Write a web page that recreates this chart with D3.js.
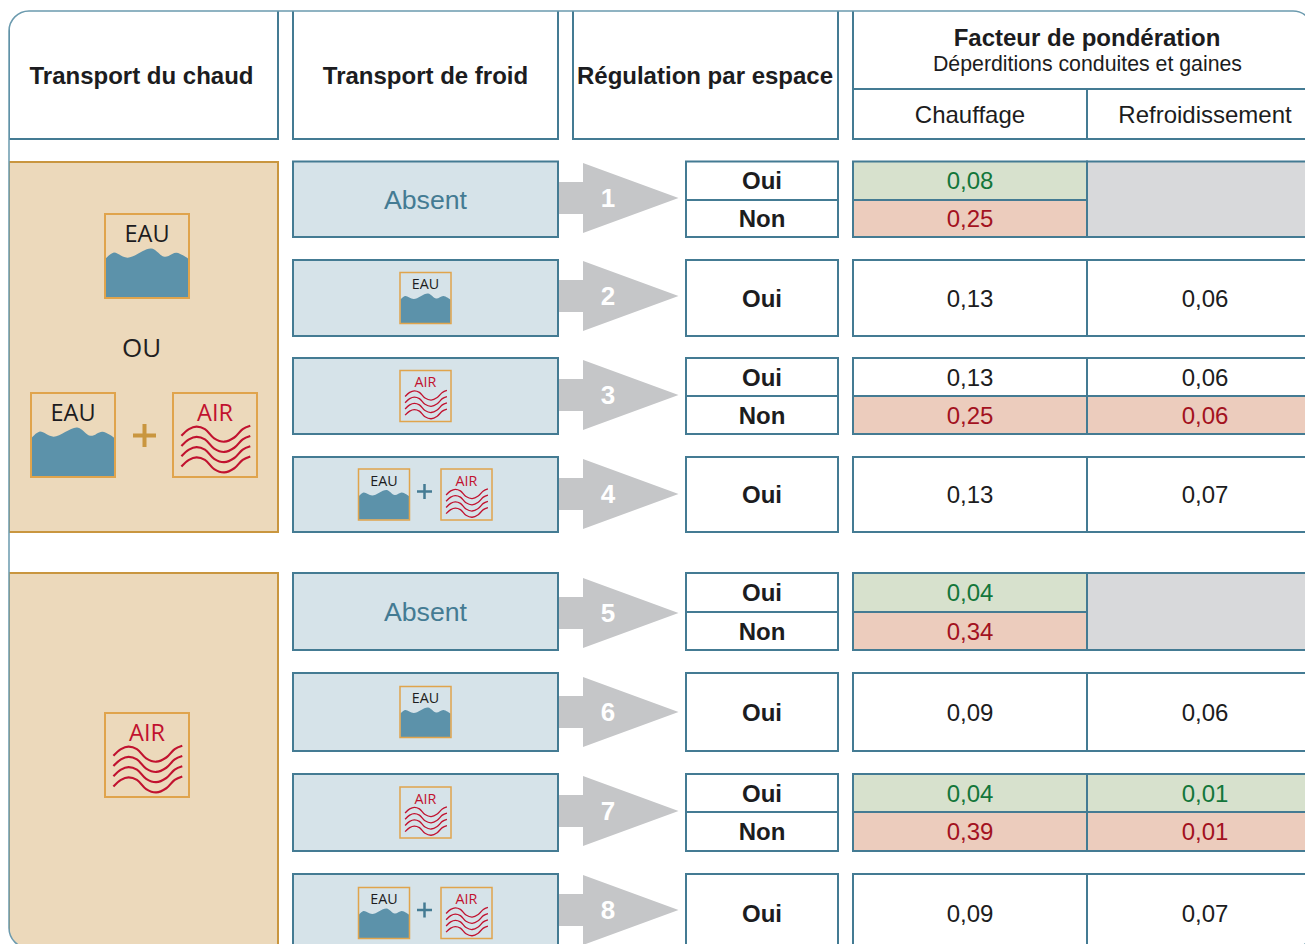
<!DOCTYPE html>
<html lang="fr">
<head>
<meta charset="utf-8">
<title>Facteur de pondération</title>
<script src="https://cdn.jsdelivr.net/npm/d3@7"></script>
<style>
  html, body { margin: 0; padding: 0; background: #fff; overflow: hidden; }
  svg { display: block; }
  text { font-family: "Liberation Sans", Arial, sans-serif; fill: #1f1f22; }
  .icon-text { font-family: "Open Sans", sans-serif; }
</style>
</head>
<body>
<svg id="chart" width="1305" height="944"></svg>
<script>
const rowNumbers = [1, 2, 3, 4, 5, 6, 7, 8];
const coolingTypes = ['Absent', 'EAU', 'AIR', 'EAU+AIR', 'Absent', 'EAU', 'AIR', 'EAU+AIR'];
const regulation = [['Oui', 'Non'], ['Oui'], ['Oui', 'Non'], ['Oui'], ['Oui', 'Non'], ['Oui'], ['Oui', 'Non'], ['Oui']];
const chauffage = [['0,08', '0,25'], ['0,13'], ['0,13', '0,25'], ['0,13'], ['0,04', '0,34'], ['0,09'], ['0,04', '0,39'], ['0,09']];
const refroidissement = [null, ['0,06'], ['0,06', '0,06'], ['0,07'], null, ['0,06'], ['0,01', '0,01'], ['0,07']];
// ton de chaque ligne : g = favorable, r = défavorable, n = neutre
const chauffageTones = [['g', 'r'], ['n'], ['n', 'r'], ['n'], ['g', 'r'], ['n'], ['g', 'r'], ['n']];
const refroidTones = [null, ['n'], ['n', 'r'], ['n'], null, ['n'], ['g', 'r'], ['n']];

const headers = ['Transport du chaud', 'Transport de froid', 'Régulation par espace'];
const heatGroups = [
    {top: 162, bottom: 532},
    {top: 573, bottom: 990}
];

const TEAL = '#447b93';
const TAN_STROKE = '#c9963f';
const ICON_STROKE = '#e0a44c';
const WATER = '#5c92aa';
const AIR_RED = '#c1122f';
const INK = '#1c1c20';
const toneFill = {g: '#d7e1cd', r: '#ecccbd', n: '#fff'};
const toneText = {g: '#13763a', r: '#a3121f', n: INK};

// positions verticales des lignes du tableau
const rowTop = d3.scaleOrdinal().domain(rowNumbers).range([161.5, 260, 358, 457, 573, 673, 774, 874]);
const rowBottom = d3.scaleOrdinal().domain(rowNumbers).range([237, 336, 434, 532, 650, 751, 851, 952]);
const rowSplit = d3.scaleOrdinal().domain(rowNumbers).range([200, 298, 396, 494, 612, 712, 812, 913]);
const arrowMid = d3.scaleOrdinal().domain(rowNumbers).range([198, 296, 395, 494, 613, 712, 811, 910]);

const col = {
    heat: [9, 278],
    cool: [293, 558],
    reg: [573, 838],
    answer: [686, 838],
    hot: [853, 1087],
    cold: [1087, 1330]
};

const svg = d3.select('#chart');
const defs = svg.append('defs');
defs.append('clipPath').attr('id', 'frame-clip')
  .append('rect')
    .attr('x', 9).attr('y', 11)
    .attr('width', 1304).attr('height', 937)
    .attr('rx', 20).attr('ry', 20);

const waterLine = d3.line().curve(d3.curveCatmullRom);
const airLine = d3.line().curve(d3.curveCatmullRom);
const waterTop = [[0.01, 0.53], [0.1, 0.46], [0.27, 0.52], [0.55, 0.41], [0.71, 0.51], [0.85, 0.46], [0.99, 0.53]];
const airWave = [[0.1, 0.51], [0.19, 0.43], [0.28, 0.4], [0.38, 0.43], [0.49, 0.54], [0.61, 0.58], [0.73, 0.53], [0.83, 0.43], [0.92, 0.39]];
const airOffsets = [0, 0.122, 0.244, 0.366];

const root = svg.append('g').attr('clip-path', 'url(#frame-clip)');

function drawBox(parent, x0, x1, y0, y1, fill, stroke) {
    return parent.append('rect')
        .attr('x', x0).attr('y', y0)
        .attr('width', x1 - x0).attr('height', y1 - y0)
        .attr('fill', fill)
        .attr('stroke', stroke)
        .attr('stroke-width', 2);
}

function drawLabel(parent, x, y, label, size, opts = {}) {
    return parent.append('text')
        .attr('x', x).attr('y', y)
        .attr('text-anchor', 'middle')
        .attr('dominant-baseline', 'central')
        .attr('font-size', size)
        .attr('font-weight', opts.bold ? 700 : 400)
        .style('fill', opts.color || INK)
        .text(label);
}

function drawIcon(parent, kind, x, y, size) {
    const unit = d3.scaleLinear().domain([0, 1]).range([0, size]);
    const g = parent.append('g').attr('transform', `translate(${x}, ${y})`);
    const px = (pts) => pts.map(([a, b]) => [unit(a), unit(b)]);
    const big = size > 60;

    if (kind === 'EAU') {
        const top = waterLine(px(waterTop));
        g.append('path')
            .attr('d', `${top}L${unit(0.99)},${unit(0.99)}L${unit(0.01)},${unit(0.99)}Z`)
            .attr('fill', WATER);
    } else {
        airOffsets.forEach((dy) => {
            g.append('path')
                .attr('d', airLine(px(airWave.map(([a, b]) => [a, b + dy]))))
                .attr('fill', 'none')
                .attr('stroke', AIR_RED)
                .attr('stroke-width', big ? 2.2 : 1.3);
        });
    }
    g.append('rect')
        .attr('width', size).attr('height', size)
        .attr('fill', 'none')
        .attr('stroke', ICON_STROKE)
        .attr('stroke-width', big ? 2 : 1.5);
    g.append('text')
        .attr('class', 'icon-text')
        .attr('x', size / 2)
        .attr('y', unit(0.33))
        .attr('text-anchor', 'middle')
        .attr('font-size', unit(0.28))
        .style('fill', kind === 'AIR' ? AIR_RED : INK)
        .text(kind);
}

function drawPlus(parent, cx, cy, half, weight, color) {
    parent.append('path')
        .attr('d', `M${cx - half},${cy}H${cx + half}M${cx},${cy - half}V${cy + half}`)
        .attr('stroke', color)
        .attr('stroke-width', weight)
        .attr('fill', 'none');
}

// colonne chaud
heatGroups.forEach((group) => {
    drawBox(root, col.heat[0], col.heat[1], group.top, group.bottom, '#ecd9bb', TAN_STROKE);
});
drawIcon(root, 'EAU', 105, 214, 84);
root.append('text')
    .attr('class', 'icon-text')
    .attr('x', 141.5).attr('y', 357)
    .attr('text-anchor', 'middle')
    .attr('font-size', 26)
    .text('OU');
drawIcon(root, 'EAU', 31, 393, 84);
drawPlus(root, 144.5, 435.5, 11.5, 4, TAN_STROKE);
drawIcon(root, 'AIR', 173, 393, 84);
drawIcon(root, 'AIR', 105, 713, 84);

// en-têtes
const headerCenters = [141.5, 425.5, 705];
[col.heat, col.cool, col.reg].forEach((c, i) => {
    drawBox(root, c[0], c[1], 0, 139, '#fff', TEAL);
    drawLabel(root, headerCenters[i], 75.5, headers[i], 24, {bold: true});
});
drawBox(root, col.hot[0], col.cold[1], 0, 89, '#fff', TEAL);
drawBox(root, col.hot[0], col.hot[1], 89, 139, '#fff', TEAL);
drawBox(root, col.cold[0], col.cold[1], 89, 139, '#fff', TEAL);
drawLabel(root, 1087, 37.5, 'Facteur de pondération', 24, {bold: true});
drawLabel(root, 1087.5, 63.5, 'Déperditions conduites et gaines', 21.3);
drawLabel(root, 970, 114.5, 'Chauffage', 24);
drawLabel(root, 1205, 114.5, 'Refroidissement', 24);

function drawSplitCells(parent, c, i, values, tones) {
    const n = rowNumbers[i];
    const ys = values.length === 2 ?
        [[rowTop(n), rowSplit(n)], [rowSplit(n), rowBottom(n)]] :
        [[rowTop(n), rowBottom(n)]];
    values.forEach((value, j) => {
        const tone = tones ? tones[j] : 'n';
        drawBox(parent, c[0], c[1], ys[j][0], ys[j][1], toneFill[tone], TEAL);
        drawLabel(parent, c === col.hot ? 970 : c === col.cold ? 1205 : (c[0] + c[1]) / 2,
            (ys[j][0] + ys[j][1]) / 2, value, 24, {
                bold: !tones,
                color: toneText[tone]
            });
    });
}

// lignes du tableau
rowNumbers.forEach((n, i) => {
    const top = rowTop(n);
    const bottom = rowBottom(n);
    const mid = (top + bottom) / 2;
    const tip = arrowMid(n);

    // flèche numérotée
    root.append('path')
        .attr('d', `M559,${tip - 16}H583V${tip - 35}L678.5,${tip}L583,${tip + 35}V${tip + 16}H559Z`)
        .attr('fill', '#c5c6c8');
    drawLabel(root, 608, tip, n, 26, {bold: true, color: '#fff'});

    drawBox(root, col.cool[0], col.cool[1], top, bottom, '#d6e3e9', TEAL);
    const cooling = coolingTypes[i];
    if (cooling === 'Absent') {
        drawLabel(root, 425.5, mid + 0.5, cooling, 26.7, {color: TEAL});
    } else if (cooling === 'EAU+AIR') {
        drawIcon(root, 'EAU', 358.5, mid - 25.5, 51);
        drawPlus(root, 424.5, mid - 3, 7.5, 2.5, TEAL);
        drawIcon(root, 'AIR', 441, mid - 25.5, 51);
    } else {
        drawIcon(root, cooling, 400, mid - 25.5, 51);
    }

    drawSplitCells(root, col.answer, i, regulation[i], null);
    drawSplitCells(root, col.hot, i, chauffage[i], chauffageTones[i]);
    if (refroidissement[i]) {
        drawSplitCells(root, col.cold, i, refroidissement[i], refroidTones[i]);
    } else {
        drawBox(root, col.cold[0], col.cold[1], top, bottom, '#d8d9db', TEAL);
    }
});

// cadre arrondi
svg.append('rect')
    .attr('x', 9).attr('y', 11)
    .attr('width', 1304).attr('height', 937)
    .attr('rx', 20).attr('ry', 20)
    .attr('fill', 'none')
    .attr('stroke', '#6b9aae')
    .attr('stroke-width', 1.5);
</script>
</body>
</html>
